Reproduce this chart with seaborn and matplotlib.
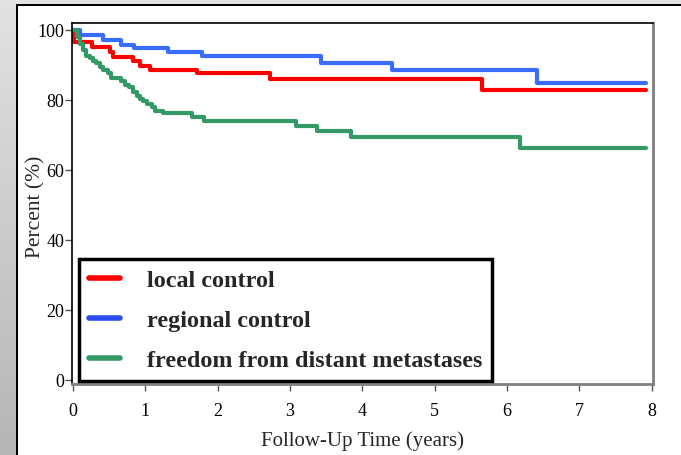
import numpy as np
import pandas as pd
import matplotlib
matplotlib.use("Agg")
import matplotlib.pyplot as plt
from matplotlib.lines import Line2D
from matplotlib.patches import Rectangle
import seaborn as sns

# Kaplan-Meier estimates (time in years, percent event-free)
local_t = [0, 0.02, 0.26, 0.51, 0.55, 0.83, 0.92, 1.06, 1.72, 2.72, 5.65, 7.93]
local_v = [100, 96.4, 95.1, 93.7, 92.3, 91.1, 89.7, 88.6, 87.5, 85.8, 82.8, 82.8]

regional_t = [0, 0.09, 0.41, 0.67, 0.85, 1.31, 1.79, 3.43, 4.41, 6.41, 7.93]
regional_v = [100, 98.5, 97.1, 95.6, 94.7, 93.7, 92.6, 90.6, 88.5, 84.7, 84.7]

distant_t = [0, 0.05, 0.09, 0.14, 0.18, 0.23, 0.28, 0.32, 0.37, 0.41, 0.48, 0.53,
             0.67, 0.72, 0.77, 0.83, 0.88, 0.93, 0.97, 1.02, 1.09, 1.13, 1.25,
             1.64, 1.81, 3.09, 3.37, 3.85, 6.18, 7.93]
distant_v = [100, 98.0, 96.0, 94.2, 92.6, 91.8, 91.0, 90.4, 89.4, 88.5, 87.5, 86.3,
             85.4, 84.3, 83.5, 82.3, 81.1, 80.2, 79.7, 78.8, 77.8, 76.9, 76.2,
             75.0, 74.0, 72.6, 71.1, 69.3, 66.3, 66.3]

series_names = ["local control", "regional control", "freedom from distant metastases"]
series_colors = ["#ff0000", "#3a6cff", "#339966"]
legend_colors = ["#ff0000", "#2a4cf0", "#339966"]

x_ticks = [0, 1, 2, 3, 4, 5, 6, 7, 8]
y_ticks = [0, 20, 40, 60, 80, 100]

frames = []
for name, t, v in zip(series_names, [local_t, regional_t, distant_t],
                      [local_v, regional_v, distant_v]):
    frames.append(pd.DataFrame({"time": t, "percent": v, "endpoint": name}))
df = pd.concat(frames, ignore_index=True)

sns.set_style("ticks")
plt.rcParams["font.family"] = ["Liberation Serif", "DejaVu Serif"]

W, H = 681, 456
fig = plt.figure(figsize=(W / 100, H / 100), dpi=100)
fig.patch.set_facecolor("white")

# window-style frame: grey gradient strip on the left, grey band on top
strip = fig.add_axes([0, 0, 16 / W, 1])
grad = np.linspace(0, 1, 256).reshape(-1, 1)
strip.imshow(grad, aspect="auto", cmap=matplotlib.colors.LinearSegmentedColormap.from_list(
    "g", ["#b6b6b6", "#e2e2e2"]), origin="lower", extent=[0, 1, 0, 1])
strip.set_axis_off()
fig.patches.append(Rectangle((0, 1 - 5 / H), 1, 5 / H, transform=fig.transFigure,
                             facecolor="#e2e2e2", edgecolor="none", zorder=0))
fig.patches.append(Rectangle((16 / W, 1 - 7 / H), 1, 2 / H, transform=fig.transFigure,
                             facecolor="black", edgecolor="none", zorder=1))
fig.patches.append(Rectangle((16 / W, 0), 2 / W, 1 - 5 / H, transform=fig.transFigure,
                             facecolor="black", edgecolor="none", zorder=1))

ax = fig.add_axes([72 / W, 1 - 385 / H, (653 - 72) / W, (385 - 24) / H])
sns.lineplot(data=df, x="time", y="percent", hue="endpoint", palette=series_colors,
             hue_order=series_names, drawstyle="steps-post", linewidth=3,
             legend=False, ax=ax, estimator=None, sort=False)

ax.set_xlim(-0.014, 8.02)
ax.set_ylim(-1.2, 101.9)
ax.set_xticks(x_ticks)
ax.set_yticks(y_ticks)
ax.tick_params(axis="both", direction="out", length=5, width=1, color="#555555",
               labelsize=13, labelcolor="black")
ax.tick_params(axis="y", pad=0.5)
ax.tick_params(axis="x", pad=8)

for side in ["top", "left"]:
    ax.spines[side].set_color("black")
    ax.spines[side].set_linewidth(1.2)
for side in ["right", "bottom"]:
    ax.spines[side].set_color("#808080")
    ax.spines[side].set_linewidth(2)

ax.set_xlabel("Follow-Up Time (years)", fontsize=15)
ax.set_ylabel("Percent (%)", fontsize=15.5)
ax.xaxis.set_label_coords(0.5, -0.127)
ax.yaxis.set_label_coords(-0.046, 0.493)

handles = [Line2D([], [], color=c, linewidth=4) for c in legend_colors]
leg = ax.legend(handles, series_names, loc="lower left", bbox_to_anchor=(0.012, 0.008),
                borderaxespad=0, frameon=True, fancybox=False, shadow=False,
                prop={"weight": "bold", "size": 17.4}, handlelength=1.28,
                handletextpad=1.1, labelspacing=0.74, borderpad=0.42)
leg.get_frame().set_edgecolor("black")
leg.get_frame().set_linewidth(2.5)
leg.get_frame().set_facecolor("white")
leg.get_frame().set_alpha(1)

fig.savefig("out.png", dpi=100)
